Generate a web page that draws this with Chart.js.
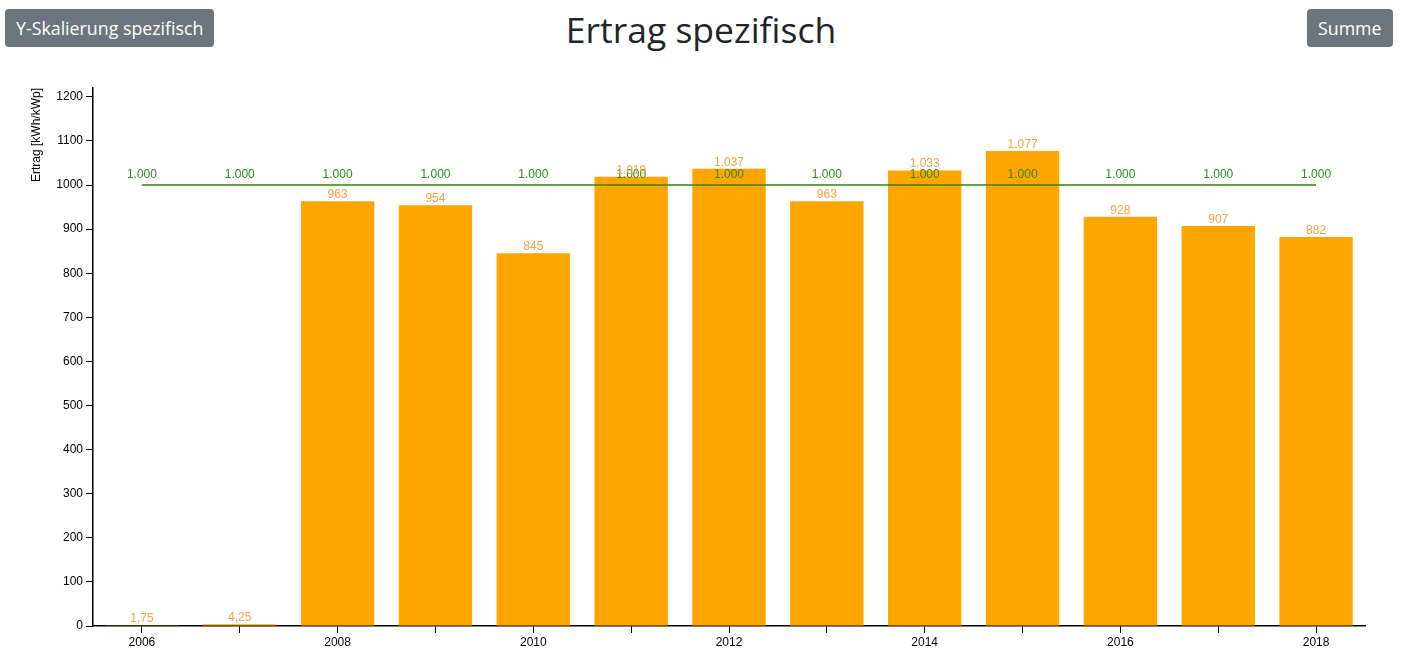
<!DOCTYPE html>
<html>
<head>
<meta charset="utf-8">
<script src="https://cdn.jsdelivr.net/npm/chart.js@4"></script>
<style>
  body { margin: 0; background: #fff; font-family: "Open Sans", "Noto Sans", sans-serif; }
  .btn { position: absolute; top: 9px; height: 38px; line-height: 38px; padding: 0 11px;
         background: #6c757d; color: #fff; border-radius: 4px; font-size: 17.8px; }
  #title { position: absolute; top: 3px; left: 0; width: 1402px; text-align: center;
           font-size: 35.5px; color: #212529; margin: 0; font-weight: 400; line-height: 52px; }
  #wrap { position: absolute; left: 0; top: 0; width: 1402px; height: 658px; }
</style>
</head>
<body>
<div class="btn" style="left:5px;">Y-Skalierung spezifisch</div>
<h1 id="title">Ertrag spezifisch</h1>
<div class="btn" style="left:1307px;">Summe</div>
<div id="wrap"><canvas id="chart"></canvas></div>
<script>
const years = ['2006', '2007', '2008', '2009', '2010', '2011', '2012', '2013', '2014', '2015', '2016', '2017', '2018'];
const ertrag = [1.75, 4.25, 963, 954, 845, 1019, 1037, 963, 1033, 1077, 928, 907, 882];
const sollwert = [1000, 1000, 1000, 1000, 1000, 1000, 1000, 1000, 1000, 1000, 1000, 1000, 1000];
const yTicks = [0, 100, 200, 300, 400, 500, 600, 700, 800, 900, 1000, 1100, 1200];

// German number format: 1.019 / 1,75
function fmt(v) {
    if (v % 1 !== 0) return v.toFixed(2).replace('.', ',');
    return String(v).replace(/\B(?=(\d{3})+(?!\d))/g, '.');
}

// draws value labels above bars and line points
const valueLabels = {
    id: 'valueLabels',
    afterDatasetsDraw(chart) {
        const ctx = chart.ctx;
        ctx.save();
        ctx.font = '12px Arial, "Liberation Sans", sans-serif';
        ctx.textAlign = 'center';
        ctx.textBaseline = 'alphabetic';
        chart.data.datasets.forEach((ds, i) => {
            const meta = chart.getDatasetMeta(i);
            ctx.fillStyle = ds.labelColor;
            meta.data.forEach((el, j) => {
                ctx.fillText(fmt(ds.data[j]), el.x, el.y - ds.labelOffset);
            });
        });
        ctx.restore();
    }
};

const ctx = document.getElementById('chart').getContext('2d');
new Chart(ctx, {
    data: {
        labels: years,
        datasets: [
            {
                type: 'line',
                data: sollwert,
                borderColor: '#2f8500',
                borderWidth: 1.5,
                pointRadius: 0,
                labelColor: '#2e8a1e',
                labelOffset: 7,
                order: 0
            },
            {
                type: 'bar',
                data: ertrag,
                backgroundColor: '#ffa500',
                categoryPercentage: 1,
                barPercentage: 0.75,
                labelColor: '#f7a042',
                labelOffset: 3,
                order: 1
            }
        ]
    },
    options: {
        responsive: true,
        maintainAspectRatio: false,
        animation: false,
        layout: { padding: { top: 88, right: 37, left: 0, bottom: 0 } },
        plugins: { legend: { display: false }, tooltip: { enabled: false } },
        scales: {
            x: {
                grid: { display: true, drawOnChartArea: false, tickLength: 7, color: '#000', offset: false },
                border: { color: '#000', width: 1.5 },
                ticks: {
                    autoSkip: false, maxRotation: 0, color: '#000', padding: 2,
                    font: { family: 'Arial, "Liberation Sans", sans-serif', size: 12 },
                    callback: function(v, i) { return i % 2 === 0 ? this.getLabelForValue(v) : ''; }
                },
                afterFit(scale) { scale.height = 32; }
            },
            y: {
                min: 0,
                max: 1220,
                grid: { display: true, drawOnChartArea: false, tickLength: 7, color: '#000' },
                border: { color: '#000', width: 1.5 },
                ticks: {
                    color: '#000', padding: 3,
                    font: { family: 'Arial, "Liberation Sans", sans-serif', size: 12 },
                    callback: v => String(v)
                },
                afterBuildTicks(scale) { scale.ticks = yTicks.map(v => ({ value: v })); },
                title: {
                    display: true, text: 'Ertrag [kWh/kWp]', align: 'end', color: '#000',
                    font: { family: 'Arial, "Liberation Sans", sans-serif', size: 12 },
                    padding: { top: 29, bottom: 0 }
                },
                afterFit(scale) { scale.width = 93; }
            }
        }
    },
    plugins: [valueLabels]
});
</script>
</body>
</html>
